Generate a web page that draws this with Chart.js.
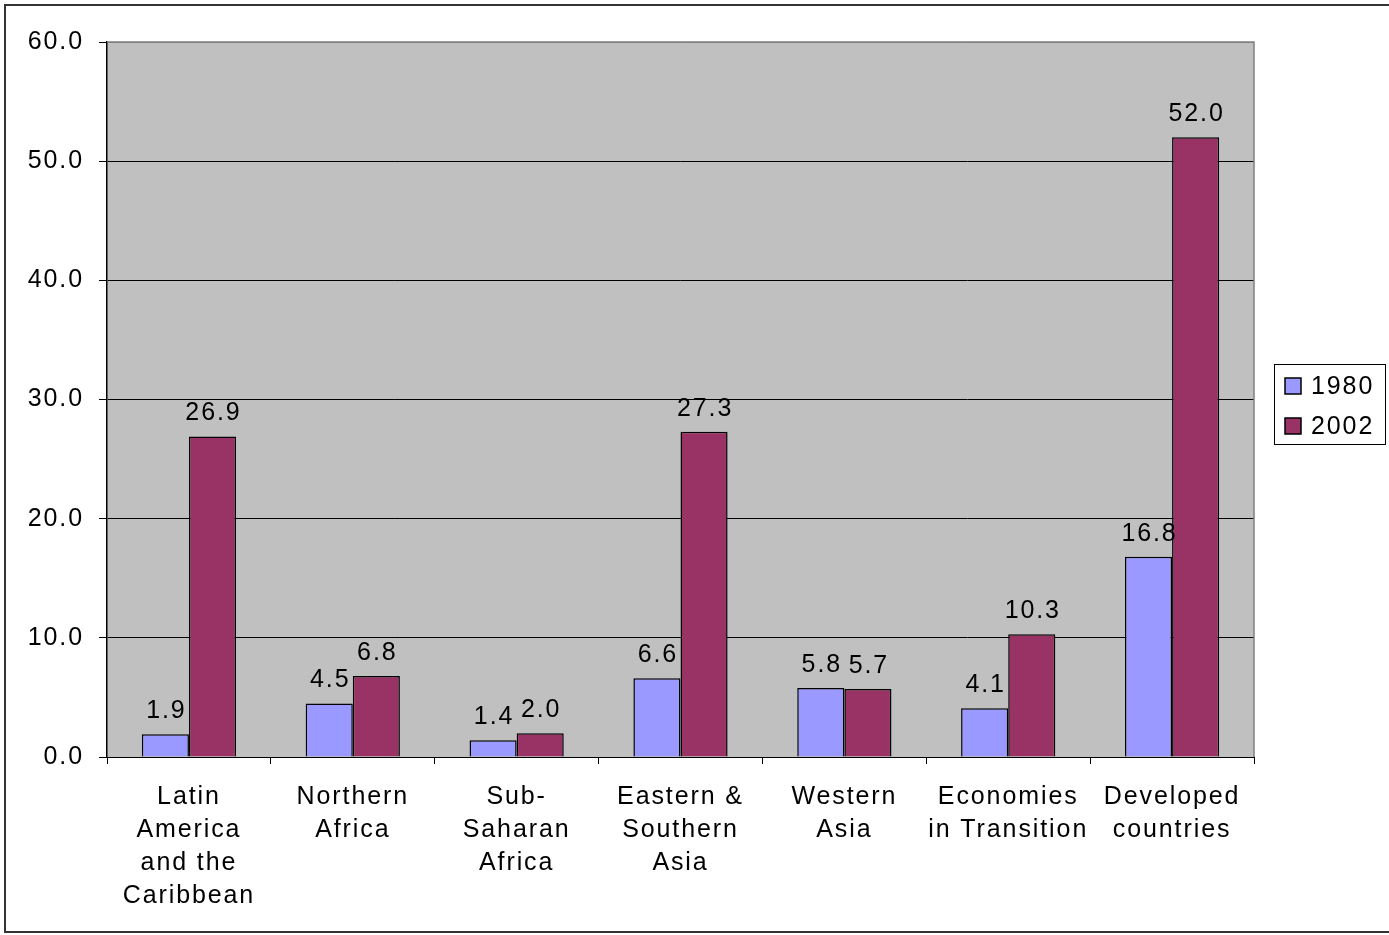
<!DOCTYPE html>
<html>
<head>
<meta charset="utf-8">
<script src="https://cdn.jsdelivr.net/npm/chart.js@4.4.1/dist/chart.umd.min.js"></script>
<style>
  html, body { margin: 0; padding: 0; background: #fff; }
  #wrap { width: 1389px; height: 935px; position: relative; }
</style>
</head>
<body>
<div id="wrap"><canvas id="chart" width="1389" height="935"></canvas></div>
<script>
// regions and values per year
const regions = [
    ['Latin', 'America', 'and the', 'Caribbean'],
    ['Northern', 'Africa'],
    ['Sub-', 'Saharan', 'Africa'],
    ['Eastern &', 'Southern', 'Asia'],
    ['Western', 'Asia'],
    ['Economies', 'in Transition'],
    ['Developed', 'countries']
];
const years = ['1980', '2002'];
const values1980 = [1.9, 4.5, 1.4, 6.6, 5.8, 4.1, 16.8];
const values2002 = [26.9, 6.8, 2.0, 27.3, 5.7, 10.3, 52.0];
const yTicks = [0, 10, 20, 30, 40, 50, 60];

const FONT = "'Liberation Sans', Arial, sans-serif";
const FONT_SIZE = 25;
const SPACING = '1.9px';

// wide-set lettering for every text on the canvas
const textSpacing = {
    id: 'textSpacing',
    beforeUpdate(chart) { chart.ctx.letterSpacing = SPACING; },
    beforeDraw(chart) { chart.ctx.letterSpacing = SPACING; }
};

// outer frame, plot background and right border
const frameAndBackground = {
    id: 'frameAndBackground',
    beforeDraw(chart) {
        const ctx = chart.ctx;
        const a = chart.chartArea;
        ctx.save();
        ctx.fillStyle = '#fff';
        ctx.fillRect(0, 0, chart.width, chart.height);
        ctx.strokeStyle = '#333';
        ctx.lineWidth = 2;
        ctx.beginPath();
        ctx.moveTo(chart.width + 2, 5);
        ctx.lineTo(5, 5);
        ctx.lineTo(5, 932);
        ctx.lineTo(chart.width + 2, 932);
        ctx.stroke();
        ctx.fillStyle = '#c0c0c0';
        ctx.fillRect(a.left, a.top, a.right - a.left, a.bottom - a.top);
        ctx.restore();
    },
    beforeDatasetsDraw(chart) {
        const ctx = chart.ctx;
        const a = chart.chartArea;
        ctx.save();
        ctx.strokeStyle = '#808080';
        ctx.lineWidth = 1.5;
        ctx.beginPath();
        ctx.moveTo(a.left, a.top);
        ctx.lineTo(a.right, a.top);
        ctx.lineTo(a.right, a.bottom);
        ctx.stroke();
        ctx.restore();
    }
};

// value labels above every bar
const valueLabels = {
    id: 'valueLabels',
    afterDatasetsDraw(chart) {
        const ctx = chart.ctx;
        ctx.save();
        ctx.font = FONT_SIZE + 'px ' + FONT;
        ctx.fillStyle = '#000';
        ctx.textAlign = 'center';
        ctx.textBaseline = 'alphabetic';
        chart.data.datasets.forEach((ds, i) => {
            chart.getDatasetMeta(i).data.forEach((bar, j) => {
                ctx.fillText(ds.data[j].toFixed(1), bar.x + 1, bar.y - 16);
            });
        });
        ctx.restore();
    }
};

// boxed legend on the right
const boxLegend = {
    id: 'boxLegend',
    afterDraw(chart) {
        const ctx = chart.ctx;
        const x = 1274, y = 364, w = 111, h = 80;
        ctx.save();
        ctx.fillStyle = '#fff';
        ctx.fillRect(x, y, w, h);
        ctx.strokeStyle = '#000';
        ctx.lineWidth = 1;
        ctx.strokeRect(x + 0.5, y + 0.5, w, h);
        ctx.font = FONT_SIZE + 'px ' + FONT;
        ctx.textBaseline = 'middle';
        chart.data.datasets.forEach((ds, i) => {
            const cy = y + 22 + i * 40;
            ctx.fillStyle = ds.backgroundColor;
            ctx.fillRect(x + 11, cy - 8, 16, 16);
            ctx.strokeStyle = '#000';
            ctx.lineWidth = 1.5;
            ctx.strokeRect(x + 11, cy - 8, 16, 16);
            ctx.fillStyle = '#000';
            ctx.fillText(ds.label, x + 37, cy + 1);
        });
        ctx.restore();
    }
};

new Chart(document.getElementById('chart').getContext('2d'), {
    type: 'bar',
    data: {
        labels: regions,
        datasets: [
            { label: years[0], data: values1980, backgroundColor: '#9999ff', borderColor: '#000', borderWidth: 1.5 },
            { label: years[1], data: values2002, backgroundColor: '#993366', borderColor: '#000', borderWidth: 1.5 }
        ]
    },
    options: {
        responsive: false,
        animation: false,
        layout: { padding: { left: 5, top: 42, right: 135, bottom: 0 } },
        datasets: { bar: { categoryPercentage: 0.575, barPercentage: 1.0 } },
        plugins: {
            legend: { display: false },
            tooltip: { enabled: false }
        },
        scales: {
            x: {
                afterFit(scale) { scale.height = 178; },
                grid: {
                    offset: true,
                    drawOnChartArea: false,
                    color: '#000',
                    tickLength: 7
                },
                border: { color: '#000', width: 1 },
                ticks: {
                    color: '#000',
                    font: { family: FONT, size: FONT_SIZE, lineHeight: 1.33 },
                    padding: 16,
                    maxRotation: 0,
                    autoSkip: false
                }
            },
            y: {
                min: 0,
                max: 60,
                afterFit(scale) { scale.width = 102; },
                afterBuildTicks(scale) { scale.ticks = yTicks.map(v => ({ value: v })); },
                grid: {
                    color: ctx => (ctx.tick && ctx.tick.value === 60 ? '#808080' : '#000'),
                    lineWidth: 1,
                    tickLength: 8,
                    tickColor: '#000'
                },
                border: { color: '#000', width: 1.5 },
                ticks: {
                    color: '#000',
                    font: { family: FONT, size: FONT_SIZE },
                    padding: 15,
                    callback: v => v.toFixed(1)
                }
            }
        }
    },
    plugins: [textSpacing, frameAndBackground, valueLabels, boxLegend]
});
</script>
</body>
</html>
